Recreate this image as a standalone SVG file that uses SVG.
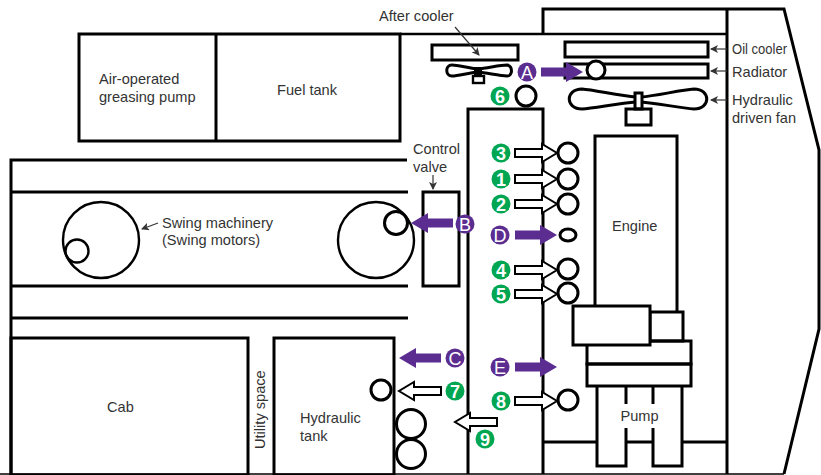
<svg xmlns="http://www.w3.org/2000/svg" xmlns:xlink="http://www.w3.org/1999/xlink" width="821" height="475" viewBox="0 0 821 475">
<style>
.s{fill:none;stroke:#000;stroke-width:3}
.m{fill:none;stroke:#000;stroke-width:2.4}
.w{fill:#fff;stroke:#000;stroke-width:3}
.t{font-family:"Liberation Sans",Arial,sans-serif;font-size:14.6px;fill:#333}
.g{fill:#00a651}
.p{fill:#5b2d91}
.n{font-family:"Liberation Sans",Arial,sans-serif;font-size:18px;font-weight:bold;fill:#fff;text-anchor:middle}
.l{font-family:"Liberation Sans",Arial,sans-serif;font-size:18px;fill:#fff;text-anchor:middle}
.ha{fill:#fff;stroke:#000;stroke-width:2}
.lead{fill:none;stroke:#333;stroke-width:1.2}
</style>
<defs>
<path id="wa" d="M0-4H27V-9L42 0 27 9V4H0Z"/>
<path id="pa" d="M0-4.500H25V-10L42 0 25 10V4.500H0Z"/>
<marker id="ah" markerWidth="8" markerHeight="8" refX="7" refY="4" orient="auto" markerUnits="userSpaceOnUse"><path d="M0 0L8 4 0 8 2 4Z" fill="#333"/></marker>
</defs>
<rect width="821" height="475" fill="#fff"/>
<g id="outline">
<path class="m" d="M400 34H727"/>
<path class="s" d="M543 34V9H784L819 150V329L784 474M727 9V474"/>
<path class="s" d="M79 34H400V141H79ZM216 34V141"/>
<path class="s" d="M407 160H11V475M11 192H408M11 286H408M11 318H408"/>
<path d="M0 474H784" stroke="#000" stroke-width="1.500"/>
<path class="s" d="M468 474V109H543V474M543 442H597M626 442H653M682 442H727"/>
</g>
<g id="greasing-pump"><text class="t" x="99" y="84">Air-operated</text><text class="t" x="99" y="102">greasing pump</text></g>
<g id="fuel-tank"><text class="t" x="277" y="95">Fuel tank</text></g>
<g id="after-cooler"><rect class="s" x="432" y="45" width="86" height="15"/><text class="t" x="379" y="21">After cooler</text>
<path class="s" d="M452 65C458 65 468 68 478 69C488 68 500 65 507 65C513 66 513 76 507 76C500 76 488 73 478 72C468 73 458 76 452 76C445 76 445 65 452 65Z"/>
<rect x="474" y="67" width="8" height="10" fill="#000"/><rect class="m" x="473" y="76" width="11" height="7"/></g>
<g id="oil-cooler"><rect class="s" x="565" y="42" width="143" height="15"/><text class="t" x="732" y="54" textLength="55" lengthAdjust="spacingAndGlyphs">Oil cooler</text></g>
<g id="radiator"><rect class="s" x="565" y="64" width="143" height="14"/><text class="t" x="732" y="77">Radiator</text></g>
<g id="fan"><path class="s" d="M582 89C595 90 620 96 636 97H641C656 96 680 90 694 89C711 89 711 109 694 109C680 108 656 103 641 102H636C620 103 595 108 582 109C565 109 565 89 582 89Z"/>
<rect class="w" x="635" y="93" width="7" height="16" stroke-width="2.4"/><rect class="s" x="626" y="109" width="25" height="16"/>
<text class="t" x="732" y="105">Hydraulic</text><text class="t" x="732" y="123">driven fan</text></g>
<g id="engine"><path class="s" d="M595 306V136H677V312"/><text class="t" x="612" y="231">Engine</text></g>
<g id="pump">
<rect class="s" x="650" y="312" width="33" height="29"/>
<rect class="s" x="587" y="341" width="104" height="23"/><rect class="s" x="587" y="364" width="104" height="22"/>
<rect class="w" x="573" y="306" width="77" height="39"/>
<path class="s" d="M597 386V466H626V428M626 404V386M653 386V404M653 428V466H682V386"/>
<text class="t" x="620.500" y="421">Pump</text></g>
<g id="control-valve"><rect class="s" x="423" y="192" width="36" height="94"/><text class="t" x="413" y="154">Control</text><text class="t" x="413" y="172">valve</text></g>
<g id="swing-left"><circle class="m" cx="101" cy="240" r="38"/><circle class="m" cx="77" cy="251" r="11.500"/><text class="t" x="162" y="228">Swing machinery</text><text class="t" x="162" y="245">(Swing motors)</text></g>
<g id="swing-right"><circle class="m" cx="376" cy="240" r="38"/><circle class="w" cx="396" cy="223" r="11.500" stroke-width="2.400"/></g>
<g id="cab"><rect class="s" x="11" y="338" width="237" height="137"/><text class="t" x="107" y="412">Cab</text></g>
<g id="utility"><text class="t" transform="translate(265 449) rotate(-90)">Utility space</text></g>
<g id="hydraulic-tank"><rect class="s" x="274" y="338" width="120" height="137"/><text class="t" x="300" y="423">Hydraulic</text><text class="t" x="300" y="441">tank</text>
<circle class="w" cx="381" cy="390" r="10"/><circle class="s" cx="411" cy="424" r="14.500"/><circle class="s" cx="411" cy="454" r="14.500"/></g>
<g id="connectors">
<g class="ha">
<use xlink:href="#wa" href="#wa" transform="translate(515 153)"/>
<use xlink:href="#wa" href="#wa" transform="translate(515 179)"/>
<use xlink:href="#wa" href="#wa" transform="translate(515 204)"/>
<use xlink:href="#wa" href="#wa" transform="translate(515 270)"/>
<use xlink:href="#wa" href="#wa" transform="translate(515 294)"/>
<use xlink:href="#wa" href="#wa" transform="translate(515 401)"/>
<use xlink:href="#wa" href="#wa" transform="translate(441 391) scale(-1 1)"/>
<use xlink:href="#wa" href="#wa" transform="translate(497 422) scale(-1 1)"/>
</g>
<g class="p">
<use xlink:href="#pa" href="#pa" transform="translate(541 72)"/>
<use xlink:href="#pa" href="#pa" transform="translate(515 235)"/>
<use xlink:href="#pa" href="#pa" transform="translate(515 367)"/>
<use xlink:href="#pa" href="#pa" transform="translate(453 223) scale(-1 1)"/>
<use xlink:href="#pa" href="#pa" transform="translate(441 358) scale(-1 1)"/>
</g>
<path class="lead" marker-end="url(#ah)" d="M455 27L479 55"/>
<path class="lead" marker-end="url(#ah)" d="M727 49H711"/>
<path class="lead" marker-end="url(#ah)" d="M727 71H711"/>
<path class="lead" marker-end="url(#ah)" d="M727 100H711"/>
<path class="lead" marker-end="url(#ah)" d="M433 175V189"/>
<path class="lead" marker-end="url(#ah)" d="M158 223L142 229"/>
</g>
<g id="points">
<circle class="w" cx="596" cy="70" r="9"/><circle class="w" cx="526" cy="96" r="10"/><circle class="w" cx="568" cy="153" r="10"/><circle class="w" cx="568" cy="179" r="10"/><circle class="w" cx="568" cy="204" r="10"/><ellipse class="w" cx="568" cy="235" rx="8" ry="6"/><circle class="w" cx="568" cy="269" r="10"/><circle class="w" cx="568" cy="293" r="10"/><circle class="w" cx="568" cy="400" r="10"/>
</g>
<g id="labels">
<circle class="p" cx="527" cy="72" r="9.500"/><text class="l" x="527" y="78.500">A</text>
<circle class="p" cx="465" cy="224" r="9.500"/><text class="l" x="465" y="230.500">B</text>
<circle class="p" cx="455" cy="358" r="9.500"/><text class="l" x="455" y="364.500">C</text>
<circle class="p" cx="500" cy="235" r="9.500"/><text class="l" x="500" y="241.500">D</text>
<circle class="p" cx="500" cy="367" r="9.500"/><text class="l" x="500" y="373.500">E</text>
<circle class="g" cx="501" cy="179" r="9.500"/><text class="n" x="501" y="185.500">1</text>
<circle class="g" cx="501" cy="204" r="9.500"/><text class="n" x="501" y="210.500">2</text>
<circle class="g" cx="501" cy="153" r="9.500"/><text class="n" x="501" y="159.500">3</text>
<circle class="g" cx="501" cy="270" r="9.500"/><text class="n" x="501" y="276.500">4</text>
<circle class="g" cx="501" cy="294" r="9.500"/><text class="n" x="501" y="300.500">5</text>
<circle class="g" cx="500" cy="96" r="9.500"/><text class="n" x="500" y="102.500">6</text>
<circle class="g" cx="455" cy="391" r="9.500"/><text class="n" x="455" y="397.500">7</text>
<circle class="g" cx="501" cy="401" r="9.500"/><text class="n" x="501" y="407.500">8</text>
<circle class="g" cx="485" cy="439" r="9.500"/><text class="n" x="485" y="445.500">9</text>
</g>
</svg>
